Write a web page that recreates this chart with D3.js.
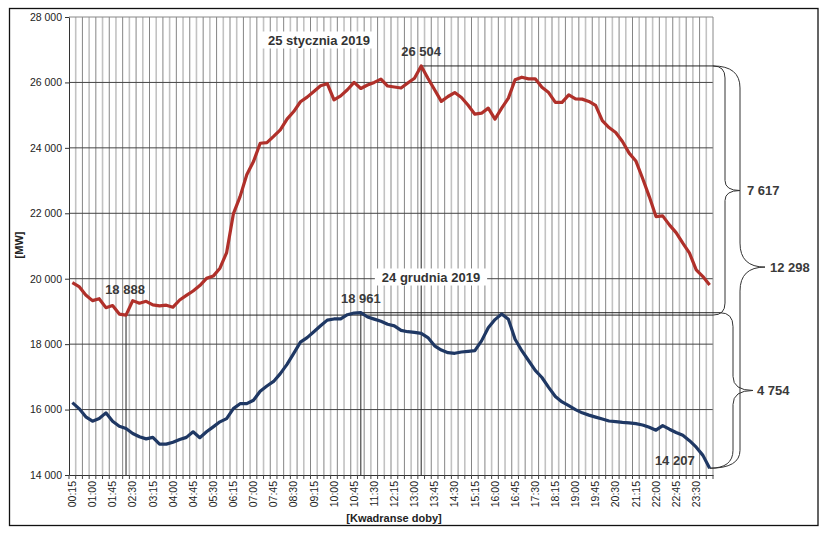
<!DOCTYPE html>
<html>
<head>
<meta charset="utf-8">
<script src="https://cdn.jsdelivr.net/npm/d3@7"></script>
<style>
  body { margin: 0; background: #fff; }
  svg { display: block; font-family: "Liberation Sans", Arial, sans-serif; }
</style>
</head>
<body>
<svg id="chart" width="827" height="537"></svg>
<script>
// quarter-hour categories 00:15 ... 24:00
const times = d3.range(96).map(i => {
  const m = (i + 1) * 15;
  return String(Math.floor(m / 60)).padStart(2, "0") + ":" + String(m % 60).padStart(2, "0");
});

// 25 stycznia 2019 [MW]
const jan25 = [
  19880, 19760, 19500, 19330, 19390, 19115, 19180, 18920, 18888, 19330, 19250, 19310,
  19200, 19170, 19190, 19130, 19350, 19490, 19625, 19790, 20010, 20080, 20320, 20800,
  21980, 22510, 23175, 23580, 24140, 24160, 24350, 24550, 24880, 25110, 25410, 25550,
  25725, 25900, 25960, 25470, 25590, 25775, 26000, 25815, 25920, 26000, 26100, 25890,
  25860, 25830, 25980, 26130, 26504, 26130, 25775, 25420, 25570, 25690, 25540, 25300,
  25030, 25060, 25215, 24880, 25215, 25520, 26080, 26160, 26110, 26110, 25850, 25690,
  25390, 25390, 25620, 25500, 25490, 25420, 25300, 24830, 24620, 24470, 24195, 23840,
  23600, 23070, 22510, 21900, 21920, 21645, 21410, 21085, 20780, 20270, 20065, 19810
];

// 24 grudnia 2019 [MW]
const dec24 = [
  16213, 16030, 15777, 15645, 15725, 15900, 15645, 15490, 15420, 15270, 15170, 15105,
  15150, 14945, 14945, 15000, 15085, 15150, 15320, 15140, 15320, 15470, 15625, 15725,
  16030, 16180, 16180, 16285, 16560, 16720, 16860, 17100, 17380, 17720, 18060, 18200,
  18380, 18560, 18735, 18770, 18775, 18900, 18950, 18961, 18830, 18765, 18700, 18610,
  18560, 18420, 18380, 18360, 18330, 18200, 17950, 17820, 17740, 17720, 17760, 17780,
  17800, 18100, 18500, 18750, 18920, 18760, 18150, 17800, 17500, 17200, 16980, 16680,
  16400, 16235, 16120, 16000, 15900, 15830, 15770, 15710, 15650, 15630, 15610, 15595,
  15570, 15530, 15460, 15370, 15510, 15400, 15300, 15215, 15050, 14850, 14600, 14207
];

const yTicks = [14000, 16000, 18000, 20000, 22000, 24000, 26000, 28000];
const seriesNames = ["25 stycznia 2019", "24 grudnia 2019"];
const diffs = [7617, 12298, 4754];

const fmt = d3.formatLocale({ decimal: ",", thousands: " ", grouping: [3], currency: ["", ""] }).format(",d");

const svg = d3.select("#chart");
const plotL = 69, plotR = 713, plotT = 17, plotB = 475;

const x = d3.scaleBand().domain(times).range([plotL, plotR]);
const xc = i => x(times[i]) + x.bandwidth() / 2;
const y = d3.scaleLinear().domain([14000, 28000]).range([plotB, plotT]);

// outer frame
svg.append("rect")
  .attr("x", 9.5).attr("y", 8.5).attr("width", 808.5).attr("height", 517)
  .attr("fill", "none").attr("stroke", "#111").attr("stroke-width", 1.3);

// vertical grid, one line per quarter
svg.append("g").selectAll("line")
  .data(times.slice(1))
  .join("line")
  .attr("x1", d => x(d)).attr("x2", d => x(d))
  .attr("y1", plotT).attr("y2", plotB)
  .attr("stroke", (d, i) => i % 2 ? "#858585" : "#c2c2c2")
  .attr("stroke-width", (d, i) => i % 2 ? 1 : 1.6);

// horizontal grid
svg.append("g").selectAll("line")
  .data(yTicks.filter(v => v > 14000 && v < 28000))
  .join("line")
  .attr("x1", plotL).attr("x2", plotR)
  .attr("y1", d => y(d)).attr("y2", d => y(d))
  .attr("stroke", "#444");

// plot border top / right
svg.append("line").attr("x1", plotL).attr("x2", plotR).attr("y1", plotT).attr("y2", plotT).attr("stroke", "#888");
svg.append("line").attr("x1", plotR).attr("x2", plotR).attr("y1", plotT).attr("y2", plotB).attr("stroke", "#888");

// annotation points
const redMaxI = d3.maxIndex(jan25), redMinI = d3.minIndex(jan25);
const blueMaxI = d3.maxIndex(dec24), blueEndI = dec24.length - 1;
const yRedMax = y(jan25[redMaxI]), yRedMin = y(jan25[redMinI]);
const yBlueMax = y(dec24[blueMaxI]), yBlueEnd = y(dec24[blueEndI]);
const xEnd = xc(blueEndI);

const ann = svg.append("g").attr("stroke", "#222").attr("stroke-width", 1).attr("fill", "none");
[[redMaxI, yRedMax], [redMinI, yRedMin], [blueMaxI, yBlueMax]].forEach(([i, yy]) => {
  ann.append("line").attr("x1", xc(i)).attr("x2", xc(i)).attr("y1", yy).attr("y2", plotB);
});
ann.append("line").attr("x1", xc(redMaxI)).attr("x2", plotR).attr("y1", yRedMax).attr("y2", yRedMax);
ann.append("line").attr("x1", xc(redMinI)).attr("x2", plotR).attr("y1", yRedMin).attr("y2", yRedMin);
ann.append("line").attr("x1", xc(blueMaxI)).attr("x2", plotR + 7).attr("y1", yBlueMax).attr("y2", yBlueMax);

// curly braces
function bracePath(x1, y1, x2, y2, xv, xt, r1, r2, h) {
  const ym = (y1 + y2) / 2;
  return `M${x1},${y1} Q${xv},${y1} ${xv},${y1 + r1} L${xv},${ym - h} Q${xv},${ym} ${xt},${ym}` +
         ` Q${xv},${ym} ${xv},${ym + h} L${xv},${y2 - r2} Q${xv},${y2} ${x2},${y2}`;
}
const braces = [
  { d: bracePath(plotR, yRedMax, plotR, yRedMin, plotR + 12, plotR + 27, 12, 12, 10), lx: plotR + 34, ly: (yRedMax + yRedMin) / 2 },
  { d: bracePath(plotR, yRedMax, xEnd, yBlueEnd, plotR + 27, plotR + 52, 22, 18, 24), lx: plotR + 57, ly: (yRedMax + yBlueEnd) / 2 },
  { d: bracePath(plotR + 7, yBlueMax, xEnd, yBlueEnd, plotR + 20, plotR + 40, 14, 18, 14), lx: plotR + 44, ly: (yBlueMax + yBlueEnd) / 2 }
];
svg.append("g").selectAll("path")
  .data(braces)
  .join("path")
  .attr("d", d => d.d)
  .attr("fill", "none").attr("stroke", "#333").attr("stroke-width", 1);

// date labels with white boxes
const dateLabels = [
  { text: seriesNames[0], x: 319, y: 40 },
  { text: seriesNames[1], x: 431, y: 277 }
];
dateLabels.forEach(l => {
  const g = svg.append("g");
  const t = g.append("text")
    .attr("x", l.x).attr("y", l.y).attr("text-anchor", "middle").attr("dominant-baseline", "central")
    .attr("font-size", 13).attr("font-weight", "bold").attr("fill", "#333")
    .text(l.text);
  const b = t.node().getBBox();
  g.insert("rect", "text")
    .attr("x", b.x - 7).attr("y", b.y - 1).attr("width", b.width + 14).attr("height", b.height + 2)
    .attr("fill", "#fff");
});

// series lines
const line = d3.line().x((d, i) => xc(i)).y(d => y(d));
svg.append("path").datum(jan25).attr("d", line)
  .attr("fill", "none").attr("stroke", "#b0302a").attr("stroke-width", 3.2).attr("stroke-linejoin", "round");
svg.append("path").datum(dec24).attr("d", line)
  .attr("fill", "none").attr("stroke", "#1f3864").attr("stroke-width", 3.2).attr("stroke-linejoin", "round");

// value labels
const valLabels = [
  { text: fmt(jan25[redMaxI]), x: xc(redMaxI), y: yRedMax - 14, anchor: "middle" },
  { text: fmt(jan25[redMinI]), x: xc(redMinI) - 1, y: yRedMin - 26, anchor: "middle" },
  { text: fmt(dec24[blueMaxI]), x: xc(blueMaxI), y: yBlueMax - 14, anchor: "middle" },
  { text: fmt(dec24[blueEndI]), x: xEnd - 15, y: yBlueEnd - 8, anchor: "end" }
].concat(braces.map((b, i) => ({ text: fmt(diffs[i]), x: b.lx, y: b.ly, anchor: "start" })));

svg.append("g").selectAll("text")
  .data(valLabels)
  .join("text")
  .attr("x", d => d.x).attr("y", d => d.y)
  .attr("text-anchor", d => d.anchor).attr("dominant-baseline", "central")
  .attr("font-size", 13).attr("font-weight", "bold").attr("fill", "#3a3a3a")
  .text(d => d.text);

// y axis
const yAxis = svg.append("g").attr("transform", `translate(${plotL},0)`)
  .call(d3.axisLeft(y).tickValues(yTicks).tickSize(4).tickSizeOuter(0).tickPadding(3).tickFormat(fmt));
yAxis.selectAll("text").attr("font-size", 10.5).attr("fill", "#222").attr("font-family", null);
yAxis.selectAll("line, path").attr("stroke", "#333");

// x axis
const xAxis = svg.append("g").attr("transform", `translate(0,${plotB})`)
  .call(d3.axisBottom(x).tickValues(times.filter((d, i) => i % 3 === 0)).tickSize(0).tickSizeOuter(0));
xAxis.select(".domain").attr("stroke", "#333");
xAxis.selectAll("text")
  .attr("transform", "rotate(-90)")
  .attr("text-anchor", "end")
  .attr("x", -6).attr("y", 0).attr("dy", "0.35em")
  .attr("font-size", 10.5).attr("fill", "#222").attr("font-family", null);

// quarter tick marks
svg.append("g").selectAll("line")
  .data(d3.range(times.length + 1))
  .join("line")
  .attr("x1", i => plotL + i * x.bandwidth()).attr("x2", i => plotL + i * x.bandwidth())
  .attr("y1", plotB).attr("y2", plotB + 4)
  .attr("stroke", "#444");

// axis titles
svg.append("text")
  .attr("transform", "translate(19,245) rotate(-90)")
  .attr("text-anchor", "middle").attr("dominant-baseline", "central")
  .attr("font-size", 11).attr("font-weight", "bold").attr("fill", "#222")
  .text("[MW]");
svg.append("text")
  .attr("x", 394).attr("y", 518)
  .attr("text-anchor", "middle").attr("dominant-baseline", "central")
  .attr("font-size", 11).attr("font-weight", "bold").attr("fill", "#222")
  .text("[Kwadranse doby]");
</script>
</body>
</html>
